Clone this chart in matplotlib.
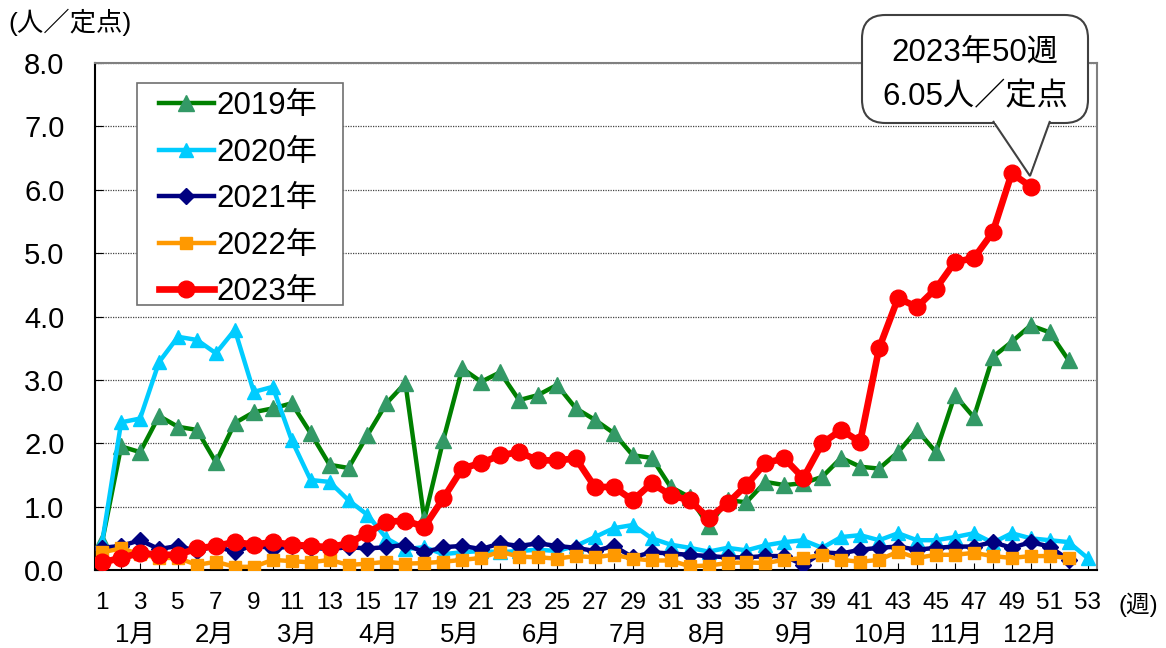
import numpy as np
import matplotlib
matplotlib.use('Agg')
import matplotlib.pyplot as plt
from matplotlib.patches import FancyBboxPatch, Polygon, Rectangle

plt.rcParams['font.family'] = ['Liberation Sans', 'Noto Sans CJK JP', 'DejaVu Sans']

# weekly values (人／定点)
weeks = np.arange(1, 54)

y2019 = [0.45, 1.95, 1.86, 2.43, 2.26, 2.21, 1.70, 2.32, 2.49, 2.55, 2.63, 2.16, 1.66, 1.61,
         2.13, 2.63, 2.95, 0.80, 2.05, 3.18, 2.97, 3.12, 2.68, 2.76, 2.92, 2.55, 2.37, 2.16,
         1.81, 1.77, 1.31, 1.15, 0.70, 1.10, 1.07, 1.39, 1.34, 1.37, 1.47, 1.77, 1.63, 1.60,
         1.86, 2.21, 1.86, 2.76, 2.41, 3.36, 3.60, 3.86, 3.75, 3.31]
y2020 = [0.44, 2.33, 2.39, 3.28, 3.68, 3.63, 3.42, 3.79, 2.81, 2.89, 2.05, 1.42, 1.39, 1.10,
         0.87, 0.50, 0.33, 0.36, 0.25, 0.28, 0.30, 0.28, 0.30, 0.32, 0.30, 0.38, 0.52, 0.66,
         0.71, 0.50, 0.40, 0.35, 0.29, 0.35, 0.31, 0.39, 0.44, 0.47, 0.35, 0.52, 0.55, 0.47,
         0.58, 0.47, 0.47, 0.52, 0.58, 0.43, 0.58, 0.50, 0.47, 0.44, 0.19]
y2021 = [0.35, 0.38, 0.47, 0.33, 0.38, 0.30, 0.38, 0.28, 0.40, 0.33, 0.38, 0.35, 0.33, 0.36,
         0.34, 0.36, 0.40, 0.28, 0.36, 0.38, 0.33, 0.42, 0.38, 0.42, 0.38, 0.35, 0.30, 0.38,
         0.20, 0.28, 0.26, 0.24, 0.22, 0.20, 0.20, 0.22, 0.22, 0.08, 0.28, 0.26, 0.32, 0.35,
         0.37, 0.32, 0.35, 0.37, 0.37, 0.44, 0.35, 0.44, 0.37, 0.16]
y2022 = [0.28, 0.34, 0.25, 0.19, 0.19, 0.08, 0.13, 0.05, 0.05, 0.16, 0.14, 0.12, 0.16, 0.08,
         0.10, 0.13, 0.10, 0.11, 0.13, 0.16, 0.19, 0.29, 0.21, 0.20, 0.18, 0.22, 0.20, 0.24,
         0.18, 0.15, 0.15, 0.06, 0.07, 0.11, 0.12, 0.11, 0.16, 0.19, 0.24, 0.16, 0.13, 0.16,
         0.29, 0.19, 0.24, 0.24, 0.27, 0.22, 0.19, 0.22, 0.22, 0.19]
y2023 = [0.12, 0.19, 0.27, 0.24, 0.24, 0.34, 0.38, 0.44, 0.40, 0.44, 0.40, 0.38, 0.36, 0.42,
         0.58, 0.76, 0.78, 0.68, 1.13, 1.60, 1.69, 1.81, 1.86, 1.73, 1.73, 1.76, 1.31, 1.31,
         1.10, 1.37, 1.18, 1.10, 0.82, 1.05, 1.34, 1.69, 1.76, 1.45, 2.00, 2.21, 2.02, 3.50,
         4.29, 4.15, 4.44, 4.86, 4.92, 5.33, 6.26, 6.05]

months = ['1月', '2月', '3月', '4月', '5月', '6月', '7月', '8月', '9月', '10月', '11月', '12月']
month_pos = [2.74, 6.96, 11.3, 15.6, 19.9, 24.2, 28.8, 32.96, 37.55, 42.1, 46.1, 50.0]


def px(x, y):
    # figure pixel -> figure fraction
    return (x / 1166, 1 - y / 648)


fig = plt.figure(figsize=(11.66, 6.48), dpi=100)
ax = fig.add_axes([95 / 1166, 1 - 570 / 648, 1002 / 1166, 507 / 648])

ax.plot(weeks[:len(y2019)], y2019, color='#008000', lw=3.2, marker='^', ms=11,
        mfc='#339966', mec='#339966', label='2019年', zorder=3)
ax.plot(weeks[:len(y2020)], y2020, color='#00CCFF', lw=3.2, marker='^', ms=10,
        mfc='#00CCFF', mec='#00CCFF', label='2020年', zorder=3)
ax.plot(weeks[:len(y2021)], y2021, color='#000080', lw=3.2, marker='D', ms=8,
        mfc='#000080', mec='#000080', label='2021年', zorder=4)
ax.plot(weeks[:len(y2022)], y2022, color='#FF9900', lw=3.2, marker='s', ms=8,
        mfc='#FF9900', mec='#FF9900', label='2022年', zorder=5)
ax.plot(weeks[:len(y2023)], y2023, color='#FF0000', lw=4.8, marker='o', ms=12,
        mfc='#FF0000', mec='#FF0000', label='2023年', zorder=6)

ax.set_xlim(0.62, 53.5)
ax.set_ylim(0, 8)
ax.set_yticks(np.arange(0, 8.1, 1.0))
ax.set_yticklabels(['%.1f' % v for v in np.arange(0, 8.1, 1.0)], fontsize=21)
ax.set_xticks(weeks)
ax.set_xticklabels([str(w) if w % 2 == 1 else '' for w in weeks], fontsize=17.5)
ax.tick_params(axis='y', direction='in', length=6, pad=22, color='black')
ax.tick_params(axis='x', direction='in', length=5, pad=16, color='black')
ax.grid(axis='y', linestyle=(0, (1, 1)), color='#444444', lw=0.9)
ax.set_axisbelow(True)

for s in ['top', 'right']:
    ax.spines[s].set_color('#808080')
    ax.spines[s].set_linewidth(1.5)
for s in ['left', 'bottom']:
    ax.spines[s].set_color('black')
    ax.spines[s].set_linewidth(1.5)

for m, p in zip(months, month_pos):
    ax.text(p, -0.127, m, transform=ax.get_xaxis_transform(), ha='center', va='center',
            fontsize=18.5)
fig.text(1138 / 1166, 1 - 605 / 648, '(週)', ha='center', va='center', fontsize=17)
fig.text(8 / 1166, 1 - 22 / 648, '(人／定点)', ha='left', va='center', fontsize=19)

# legend: own frame, content placed inside it
frame = Rectangle(px(137, 305), 206 / 1166, 222 / 648, transform=fig.transFigure,
                  facecolor='white', edgecolor='#707070', lw=1.2, zorder=19,
                  clip_on=False)
ax.add_patch(frame)
leg = ax.legend(loc='upper left', bbox_to_anchor=px(159, 91),
                bbox_transform=fig.transFigure, fontsize=22.5,
                handlelength=1.75, handletextpad=0.1, labelspacing=0.53,
                borderpad=0, borderaxespad=0, frameon=False)
leg.set_zorder(20)

# callout for 2023 week 50
box = FancyBboxPatch(px(862, 123), 226 / 1166, 108 / 648, transform=fig.transFigure,
                     boxstyle='round,pad=0,rounding_size=0.02', facecolor='white',
                     edgecolor='#404040', lw=1.5, zorder=10, mutation_aspect=1.8)
fig.add_artist(box)
tip = Polygon([px(993, 121), px(1030, 176), px(1050, 121)], closed=False,
              transform=fig.transFigure, facecolor='white', edgecolor='#404040',
              lw=1.5, zorder=11)
fig.add_artist(tip)
cover = Polygon([px(995, 121), px(1030, 172), px(1048, 121), px(1048, 123), px(995, 123)],
                transform=fig.transFigure, facecolor='white', edgecolor='none', zorder=12)
fig.add_artist(cover)
fig.text(975 / 1166, 1 - 53 / 648, '2023年50週', ha='center', va='center', fontsize=22.5,
         zorder=13)
fig.text(975 / 1166, 1 - 97 / 648, '6.05人／定点', ha='center', va='center', fontsize=22.5,
         zorder=13)

fig.savefig('out.png', dpi=100)
